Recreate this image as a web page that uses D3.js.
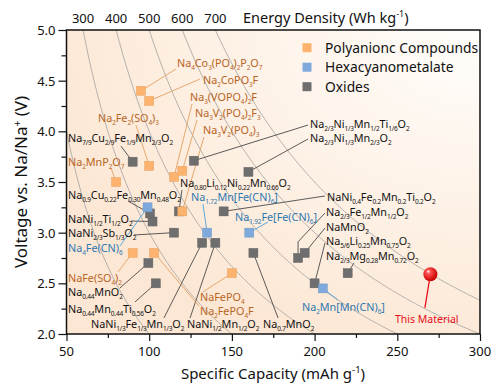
<!DOCTYPE html>
<html>
<head>
<meta charset="utf-8">
<script src="https://cdn.jsdelivr.net/npm/d3@7"></script>
<style>
  body { margin: 0; background: #fff; }
  svg text { font-family: "Noto Sans", "DejaVu Sans", sans-serif; }
</style>
</head>
<body>
<div id="chart"></div>
<script>
// ---- data ----
const polyNames = ["Na_{4}Co_{3}(PO_{4})_{2}P_{2}O_{7}", "Na_{2}CoPO_{3}F", "Na_{3}(VOPO_{4})_{2}F",
  "Na_{3}V_{2}(PO_{4})_{2}F_{3}", "Na_{3}V_{2}(PO_{4})_{3}", "Na_{2}Fe_{2}(SO_{4})_{3}", "Na_{2}MnP_{2}O_{7}",
  "NaFe(SO_{4})_{2}", "Na_{2}FePO_{4}F", "NaFePO_{4}"];
const polyCap = [95, 100, 115, 120, 120, 100, 80, 90, 103, 150];
const polyVolt = [4.40, 4.30, 3.55, 3.61, 3.21, 3.66, 3.50, 2.80, 2.80, 2.60];

const hexNames = ["Na_{4}Fe(CN)_{6}", "Na_{1.72}Mn[Fe(CN)_{6}]", "Na_{1.92}Fe[Fe(CN)_{6}]", "Na_{2}Mn[Mn(CN)_{6}]"];
const hexCap = [99, 135, 160.5, 205];
const hexVolt = [3.25, 3.00, 3.00, 2.45];

const oxideNames = ["Na_{7/9}Cu_{2/9}Fe_{1/9}Mn_{2/3}O_{2}", "Na_{2/3}Ni_{1/3}Mn_{1/2}Ti_{1/6}O_{2}",
  "Na_{2/3}Ni_{1/3}Mn_{2/3}O_{2}", "Na_{0.80}Li_{0.12}Ni_{0.22}Mn_{0.66}O_{2}",
  "Na_{0.9}Cu_{0.22}Fe_{0.30}Mn_{0.48}O_{2}", "NaNi_{1/2}Ti_{1/2}O_{2}", "NaNi_{2/3}Sb_{1/3}O_{2}",
  "Na_{0.44}MnO_{2}", "Na_{0.44}Mn_{0.44}Ti_{0.56}O_{2}", "NaNi_{1/3}Fe_{1/3}Mn_{1/3}O_{2}",
  "NaNi_{1/2}Mn_{1/2}O_{2}", "NaNi_{0.4}Fe_{0.2}Mn_{0.2}Ti_{0.2}O_{2}", "Na_{0.7}MnO_{2}",
  "Na_{2/3}Fe_{1/2}Mn_{1/2}O_{2}", "NaMnO_{2}", "Na_{5/6}Li_{0.25}Mn_{0.75}O_{2}",
  "Na_{2/3}Mg_{0.28}Mn_{0.72}O_{2}"];
const oxideCap = [90, 127, 160, 118, 100.5, 102, 115, 99.5, 104, 132, 140, 145, 163, 190, 194, 200, 220];
const oxideVolt = [3.70, 3.71, 3.60, 3.21, 3.19, 3.11, 3.00, 2.70, 2.50, 2.90, 2.90, 3.21, 2.80, 2.75, 2.80, 2.50, 2.60];

const thisCap = 270, thisVolt = 2.59;

const energyLevels = [200, 300, 400, 500, 600, 700];   // Wh/kg iso-lines
const energyTicks = [300, 400, 500, 600, 700];
const xTicks = [50, 100, 150, 200, 250, 300];
const yTicks = [2.0, 2.5, 3.0, 3.5, 4.0, 4.5, 5.0];
const legendNames = ["Polyanionc Compounds", "Hexacyanometalate", "Oxides"];

// annotation layout (data units): label start, leader start, optional elbow
const polyLabels = [
  [116.8, 4.635, 116.2, 4.615], [132.5, 4.467, 130.7, 4.516], [124.7, 4.299, 125.9, 4.270],
  [127.7, 4.141, 128.9, 4.112], [132.5, 3.974, 133.1, 3.944], [69.0, 4.092, 92.0, 4.062],
  [50.9, 3.658, 76.9, 3.638], [50.9, 2.513, 81.1, 2.612], [130.7, 2.187, 130.1, 2.276],
  [130.7, 2.326, 132.5, 2.415]];
const hexLabels = [
  [50.9, 2.809, 82.3, 2.868], [125.3, 3.312, 132.5, 3.283], [151.9, 3.115, 171.8, 3.105],
  [192.4, 2.227, 214.1, 2.336]];
const oxideLabels = [
  [50.9, 3.895, 82.9, 3.855], [197.2, 4.033, 196.0, 4.062], [197.2, 3.895, 196.0, 3.924],
  [118.6, 3.451, 119.8, 3.421], [50.9, 3.332, 87.2, 3.312], [50.9, 3.095, 89.0, 3.115],
  [50.9, 2.957, 90.8, 2.977], [50.9, 2.375, 82.3, 2.454], [50.9, 2.207, 91.4, 2.316],
  [64.8, 2.059, 108.9, 2.158], [122.9, 2.059, 124.7, 2.158], [207.5, 3.312, 206.3, 3.362],
  [168.8, 2.059, 177.9, 2.158], [206.9, 3.164, 206.3, 3.194, 190, 2.91], [206.9, 3.016, 206.3, 3.046],
  [206.9, 2.878, 206.3, 2.898], [206.9, 2.730, 223.8, 2.701]];
const thisLabel = [248.6, 2.108, 266.7, 2.257];

// ---- chart ----
const width = 500, height = 390;
const m = { left: 66.5, right: 480, top: 30, bottom: 334 };

const x = d3.scaleLinear().domain([50, 300]).range([m.left, m.right]);
const y = d3.scaleLinear().domain([2, 5]).range([m.bottom, m.top]);

const svg = d3.select("#chart").append("svg")
  .attr("width", width).attr("height", height);

const defs = svg.append("defs");
const bg = defs.append("radialGradient").attr("id", "bg")
  .attr("cx", "100%").attr("cy", "0%").attr("r", "110%");
bg.append("stop").attr("offset", "0%").attr("stop-color", "#fffefc");
bg.append("stop").attr("offset", "100%").attr("stop-color", "#fce7d4");

const ball = defs.append("radialGradient").attr("id", "ball")
  .attr("cx", "40%").attr("cy", "40%").attr("r", "60%").attr("fx", "35%").attr("fy", "30%");
ball.append("stop").attr("offset", "0%").attr("stop-color", "#ffffff");
ball.append("stop").attr("offset", "25%").attr("stop-color", "#ff5050");
ball.append("stop").attr("offset", "100%").attr("stop-color", "#c80000");

defs.append("clipPath").attr("id", "clip").append("rect")
  .attr("x", m.left).attr("y", m.top).attr("width", m.right - m.left).attr("height", m.bottom - m.top);

svg.append("rect")
  .attr("x", m.left).attr("y", m.top).attr("width", m.right - m.left).attr("height", m.bottom - m.top)
  .attr("fill", "url(#bg)");

// iso-energy curves  V = E / C
const curveLine = d3.line().x(d => x(d[0])).y(d => y(d[1]));
const curves = svg.append("g").attr("clip-path", "url(#clip)");
energyLevels.forEach(function (e) {
  const pts = d3.range(40, 301, 1).map(c => [c, e / c]);
  curves.append("path")
    .attr("d", curveLine(pts))
    .attr("fill", "none")
    .attr("stroke", "#b4b0ac")
    .attr("stroke-width", 1);
});

// formula text with sub/superscripts
function formula(sel, str, size, small, squeeze) {
  const parts = str.split(/(_\{[^}]*\}|\^\{[^}]*\})/).filter(s => s);
  let cur = 0;
  parts.forEach(function (p) {
    let want = 0, txt = p, fs = size, sub = false;
    if (p.startsWith("_{")) { want = size * 0.28; txt = p.slice(2, -1); fs = small; sub = true; }
    else if (p.startsWith("^{")) { want = -size * 0.38; txt = p.slice(2, -1); fs = small; sub = true; }
    const t = sel.append("tspan").attr("dy", want - cur).attr("font-size", fs).text(txt);
    if (sub && squeeze) t.attr("letter-spacing", squeeze);
    cur = want;
  });
}

const groups = [
  { names: oxideNames, cap: oxideCap, volt: oxideVolt, labels: oxideLabels, fill: "#6e6e6e", line: "#4a4a4a", text: "#111" },
  { names: hexNames, cap: hexCap, volt: hexVolt, labels: hexLabels, fill: "#7fa9dc", line: "#4aa0d8", text: "#2f78b0" },
  { names: polyNames, cap: polyCap, volt: polyVolt, labels: polyLabels, fill: "#fdb36e", line: "#e3a060", text: "#b8641e" }
];

// leader lines
groups.forEach(function (g) {
  g.labels.forEach(function (l, i) {
    let pts = [[l[2], l[3]]];
    if (l.length > 4) pts.push([l[4], l[5]]);
    pts.push([g.cap[i], g.volt[i]]);
    svg.append("path")
      .attr("d", curveLine(pts))
      .attr("fill", "none")
      .attr("stroke", g.line)
      .attr("stroke-width", 0.9);
  });
});
svg.append("path")
  .attr("d", curveLine([[thisLabel[2], thisLabel[3]], [thisCap, thisVolt]]))
  .attr("stroke", "#e8101a").attr("stroke-width", 1.3).attr("fill", "none");

// squares
const sq = 9;
groups.forEach(function (g) {
  svg.append("g").selectAll("rect")
    .data(g.cap.map((c, i) => [c, g.volt[i]]))
    .enter().append("rect")
    .attr("x", d => x(d[0]) - sq / 2)
    .attr("y", d => y(d[1]) - sq / 2)
    .attr("width", sq).attr("height", sq)
    .attr("fill", g.fill)
    .attr("stroke", d3.color(g.fill).darker(0.3))
    .attr("stroke-width", 0.5);
});

svg.append("circle")
  .attr("cx", x(thisCap)).attr("cy", y(thisVolt)).attr("r", 7)
  .attr("fill", "url(#ball)");

// labels
groups.forEach(function (g) {
  g.names.forEach(function (n, i) {
    const l = g.labels[i];
    const t = svg.append("text")
      .attr("x", x(l[0])).attr("y", y(l[1]))
      .attr("fill", g.text);
    formula(t, n, 10.8, 6.5, -0.2);
  });
});
svg.append("text")
  .attr("x", x(thisLabel[0])).attr("y", y(thisLabel[1]))
  .attr("fill", "#e8101a").attr("font-size", 10.5)
  .text("This Material");

// frame
svg.append("rect")
  .attr("x", m.left).attr("y", m.top).attr("width", m.right - m.left).attr("height", m.bottom - m.top)
  .attr("fill", "none").attr("stroke", "#111").attr("stroke-width", 1.5);

// axes
const xAxis = svg.append("g").attr("transform", "translate(0," + m.bottom + ")");
xAxis.call(d3.axisBottom(x).tickValues(d3.range(50, 301, 25)).tickSize(5).tickFormat(""));
xAxis.select(".domain").remove();
xAxis.selectAll(".tick line").attr("stroke", "#111").attr("stroke-width", 1.2)
  .attr("y2", d => xTicks.includes(d) ? 7 : 4);
xAxis.selectAll("text.lbl").data(xTicks).enter().append("text")
  .attr("class", "lbl")
  .attr("x", d => x(d)).attr("y", 22).attr("text-anchor", "middle")
  .attr("font-size", 13).attr("fill", "#111").text(d => d);

const yAxis = svg.append("g").attr("transform", "translate(" + m.left + ",0)");
yAxis.call(d3.axisLeft(y).tickValues(d3.range(2, 5.01, 0.25)).tickSize(5).tickFormat(""));
yAxis.select(".domain").remove();
yAxis.selectAll(".tick line").attr("stroke", "#111").attr("stroke-width", 1.2)
  .attr("x2", d => yTicks.some(t => Math.abs(t - d) < 1e-6) ? -8 : -5);
yAxis.selectAll("text.lbl").data(yTicks).enter().append("text")
  .attr("class", "lbl")
  .attr("x", -11).attr("y", d => y(d) + 5).attr("text-anchor", "end")
  .attr("font-size", 13).attr("fill", "#111").text(d => d.toFixed(1));

// top energy axis
svg.append("g").selectAll("text").data(energyTicks).enter().append("text")
  .attr("x", d => x(d / 5)).attr("y", 23).attr("text-anchor", "middle")
  .attr("font-size", 13).attr("fill", "#111").text(d => d);
const et = svg.append("text").attr("x", 243).attr("y", 23).attr("fill", "#111");
formula(et, "Energy Density (Wh kg^{-1})", 14.5, 9);

// axis titles
const xt = svg.append("text").attr("x", 273).attr("y", 379)
  .attr("text-anchor", "middle").attr("fill", "#111");
formula(xt, "Specific Capacity (mAh g^{-1})", 15, 9.5);
const yt = svg.append("text")
  .attr("transform", "translate(27," + ((m.top + m.bottom) / 2) + ") rotate(-90)")
  .attr("text-anchor", "middle").attr("fill", "#111");
formula(yt, "Voltage vs. Na/Na^{+} (V)", 17, 10);

// legend
const legendColors = ["#fdb36e", "#7fa9dc", "#6e6e6e"];
const legend = svg.append("g");
legendNames.forEach(function (n, i) {
  const ly = 47.7 + i * 19.5;
  legend.append("rect").attr("x", 302.5).attr("y", ly - 4.5).attr("width", 9).attr("height", 9)
    .attr("fill", legendColors[i]);
  legend.append("text").attr("x", 325).attr("y", ly + 5).attr("font-size", 13.8)
    .attr("fill", "#111").text(n);
});
</script>
</body>
</html>
